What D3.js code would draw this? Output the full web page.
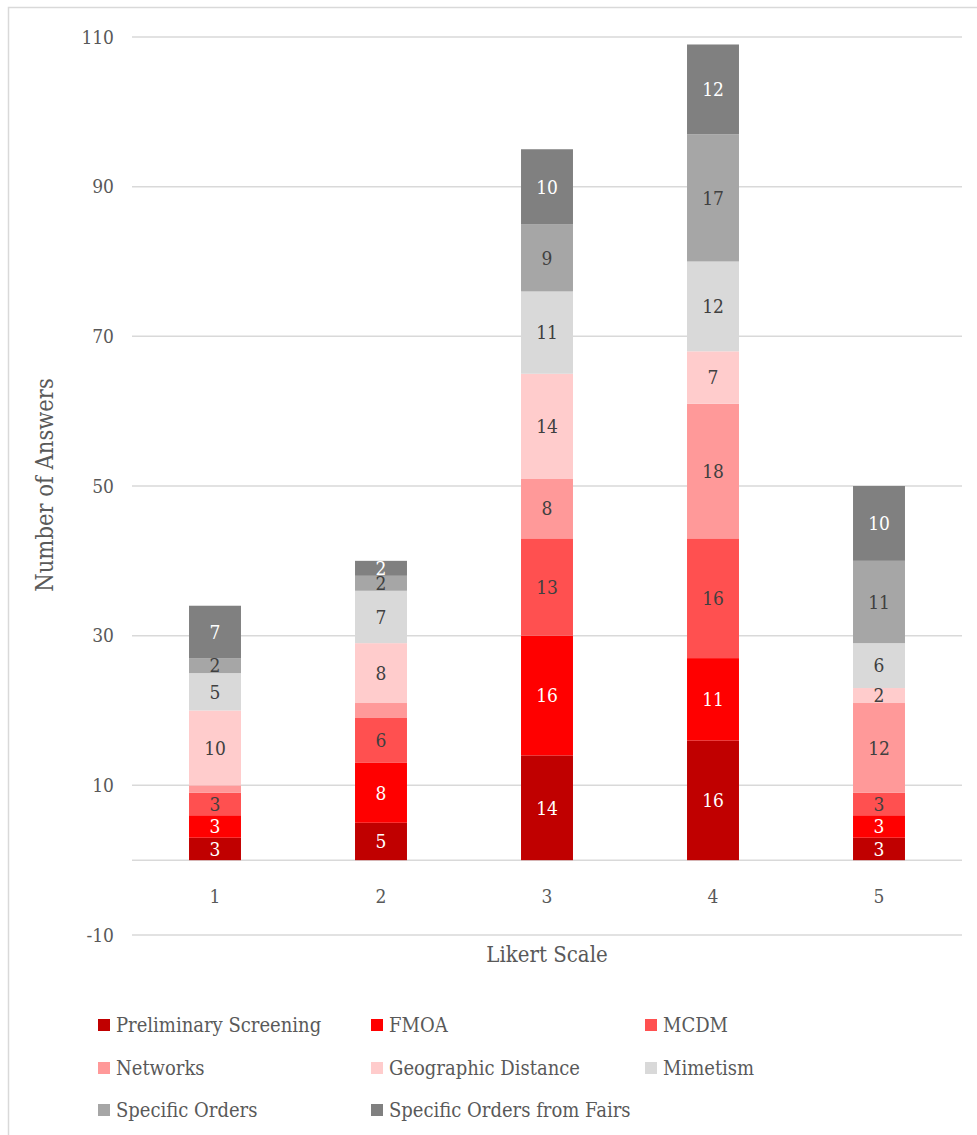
<!DOCTYPE html>
<html>
<head>
<meta charset="utf-8">
<script src="https://cdn.jsdelivr.net/npm/d3@7"></script>
<style>
  html, body { margin: 0; padding: 0; background: #fff; }
  svg { display: block; }
  svg text { font-stretch: condensed; }
</style>
</head>
<body>
<svg id="chart" width="977" height="1135"></svg>
<script>
// Likert scale answers, stacked by criterion
const categories = ["1", "2", "3", "4", "5"];
const seriesNames = [
  "Preliminary Screening", "FMOA", "MCDM", "Networks",
  "Geographic Distance", "Mimetism", "Specific Orders", "Specific Orders from Fairs"
];
const preliminaryScreening = [3, 5, 14, 16, 3];
const fmoa = [3, 8, 16, 11, 3];
const mcdm = [3, 6, 13, 16, 3];
const networks = [1, 2, 8, 18, 12];
const geographicDistance = [10, 8, 14, 7, 2];
const mimetism = [5, 7, 11, 12, 6];
const specificOrders = [2, 2, 9, 17, 11];
const specificOrdersFromFairs = [7, 2, 10, 12, 10];
const seriesValues = [
  preliminaryScreening, fmoa, mcdm, networks,
  geographicDistance, mimetism, specificOrders, specificOrdersFromFairs
];
const yTicks = [-10, 10, 30, 50, 70, 90, 110];
// segments whose value label is not shown: [series index, category index]
const unlabeled = [[3, 0], [3, 1]];

const colors = ["#C00000", "#FF0000", "#FF5050", "#FF9999", "#FFCCCC", "#D9D9D9", "#A6A6A6", "#808080"];
const labelColors = ["#ffffff", "#ffffff", "#404040", "#404040", "#404040", "#404040", "#404040", "#ffffff"];
const FONT = "'DejaVu Serif Condensed', 'DejaVu Serif', serif";

const svg = d3.select("#chart");

// chart frame
svg.append("path")
  .attr("d", "M8.5,1135 V7.5 H977")
  .attr("fill", "none")
  .attr("stroke", "#d9d9d9")
  .attr("stroke-width", 1.5);

const x = d3.scaleBand()
  .domain(categories)
  .range([132, 962])
  .paddingInner(0.687)
  .paddingOuter(0.3435);

const y = d3.scaleLinear().domain([-10, 110]).range([935, 37]);

// gridlines
svg.append("g").selectAll("line")
  .data(yTicks)
  .join("line")
  .attr("x1", 132).attr("x2", 962)
  .attr("y1", d => y(d)).attr("y2", d => y(d))
  .attr("stroke", "#d9d9d9")
  .attr("stroke-width", 1.5);

// y axis labels
const yAxis = d3.axisLeft(y).tickValues(yTicks).tickSize(0).tickPadding(0)
  .tickFormat(d => String(d));
const yg = svg.append("g").attr("transform", "translate(114,0)").call(yAxis);
yg.select(".domain").remove();
yg.selectAll("text")
  .attr("fill", "#595959")
  .style("font-family", FONT)
  .style("font-size", "19px");

// zero line
svg.append("line")
  .attr("x1", 132).attr("x2", 962)
  .attr("y1", y(0)).attr("y2", y(0))
  .attr("stroke", "#d9d9d9")
  .attr("stroke-width", 1.5);

// x axis labels
const xAxis = d3.axisBottom(x).tickSize(0).tickPadding(0);
const xg = svg.append("g").attr("transform", `translate(0,${y(0) + 29})`).call(xAxis);
xg.select(".domain").remove();
xg.selectAll("text")
  .attr("fill", "#595959")
  .style("font-family", FONT)
  .style("font-size", "19px");

// stacked segments
const rows = categories.map((c, i) => {
  const r = { cat: c };
  seriesNames.forEach((s, j) => { r[s] = seriesValues[j][i]; });
  return r;
});
const stacked = d3.stack().keys(seriesNames)(rows);

const layers = svg.append("g").selectAll("g")
  .data(stacked)
  .join("g")
  .attr("fill", (d, i) => colors[i]);

layers.selectAll("rect")
  .data(d => d)
  .join("rect")
  .attr("x", d => x(d.data.cat))
  .attr("width", x.bandwidth())
  .attr("y", d => y(d[1]))
  .attr("height", d => y(d[0]) - y(d[1]));

// value labels
const labelG = svg.append("g");
stacked.forEach((layer, si) => {
  layer.forEach((d, ci) => {
    if (unlabeled.some(u => u[0] === si && u[1] === ci)) return;
    labelG.append("text")
      .attr("x", x(d.data.cat) + x.bandwidth() / 2)
      .attr("y", (y(d[0]) + y(d[1])) / 2)
      .attr("dy", "0.36em")
      .attr("text-anchor", "middle")
      .attr("fill", labelColors[si])
      .style("font-family", FONT)
      .style("font-size", "19px")
      .text(d[1] - d[0]);
  });
});

// axis titles
svg.append("text")
  .attr("x", 547).attr("y", 962)
  .attr("text-anchor", "middle")
  .attr("fill", "#595959")
  .style("font-family", FONT)
  .style("font-size", "22px")
  .text("Likert Scale");

svg.append("text")
  .attr("transform", "translate(53,485) rotate(-90)")
  .attr("text-anchor", "middle")
  .attr("fill", "#595959")
  .style("font-family", FONT)
  .style("font-size", "23.5px")
  .text("Number of Answers");

// legend, three columns
const legendCols = [98, 371, 645];
const legendRows = [1025, 1068, 1110];
const legend = svg.append("g").selectAll("g")
  .data(seriesNames)
  .join("g")
  .attr("transform", (d, i) => `translate(${legendCols[i % 3]},${legendRows[Math.floor(i / 3)]})`);
legend.append("rect")
  .attr("x", 0).attr("y", -6)
  .attr("width", 12).attr("height", 12)
  .attr("fill", (d, i) => colors[i]);
legend.append("text")
  .attr("x", 18).attr("y", 0)
  .attr("dy", "0.35em")
  .attr("fill", "#595959")
  .style("font-family", FONT)
  .style("font-size", "20px")
  .text(d => d);
</script>
</body>
</html>
